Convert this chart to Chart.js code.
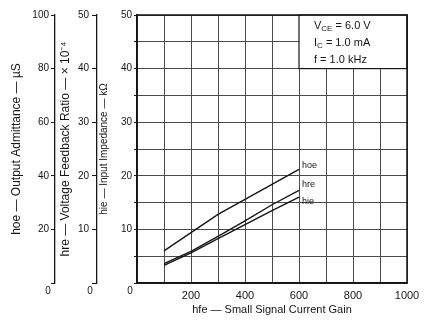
<!DOCTYPE html>
<html>
<head>
<meta charset="utf-8">
<script src="https://cdn.jsdelivr.net/npm/chart.js@4.4.1/dist/chart.umd.min.js"></script>
<style>
  html, body { margin:0; padding:0; background:#fff; }
  #wrap { width:433px; height:325px; position:relative; }
</style>
</head>
<body>
<div id="wrap"><canvas id="hParamChart"></canvas></div>
<script>
/* ═══════════════════════════════════════
   h-parameters vs small signal current gain
═══════════════════════════════════════ */

/* ── values ── */
const GAIN       = [100, 200, 300, 400, 500, 600];          // hfe
const HOE_US     = [12.0, 18.8, 25.6, 31.2, 36.8, 42.4];    // output admittance, µS
const HRE_E4     = [3.6, 5.9, 8.7, 11.6, 14.6, 17.3];       // voltage feedback ratio, ×10⁻⁴
const HIE_KOHM   = [3.3, 5.6, 8.3, 10.9, 13.5, 16.0];       // input impedance, kΩ
const CURVE_TAGS = ['hoe', 'hre', 'hie'];
const X_LABELS   = [200, 400, 600, 800, 1000];
const CONDITIONS = [['V','CE',' = 6.0 V'], ['I','C',' = 1.0 mA'], ['f','',' = 1.0 kHz']];

const INK  = '#151515';
const GRID = '#4a4a4a';
const FAMILY = "'Liberation Sans', Arial, sans-serif";

const pts = arr => GAIN.map((g,i) => ({ x:g, y:arr[i] }));

/* ── datasheet extras: condition box, frame, curve tags, zeros ── */
const sheetDecor = {
  id:'sheetDecor',
  afterDraw(chart) {
    const { ctx, chartArea:a, scales } = chart;
    const bx = scales.x.getPixelForValue(600);
    const by = scales.yie.getPixelForValue(40);
    ctx.save();

    // test-condition box
    ctx.fillStyle = '#fff';
    ctx.fillRect(bx, a.top, a.right - bx, by - a.top);
    ctx.strokeStyle = INK; ctx.lineWidth = 1.2;
    ctx.strokeRect(bx, a.top, a.right - bx, by - a.top);
    ctx.fillStyle = INK; ctx.textBaseline = 'middle'; ctx.textAlign = 'left';
    CONDITIONS.forEach(([main, sub, rest], i) => {
      let tx = bx + 15;
      const ty = a.top + 11 + i * 17;
      ctx.font = `11px ${FAMILY}`;
      ctx.fillText(main, tx, ty); tx += ctx.measureText(main).width;
      ctx.font = `8px ${FAMILY}`;
      ctx.fillText(sub, tx, ty + 3); tx += ctx.measureText(sub).width;
      ctx.font = `11px ${FAMILY}`;
      ctx.fillText(rest, tx, ty);
    });

    // plot frame
    ctx.lineWidth = 1.5;
    ctx.strokeRect(a.left, a.top, a.right - a.left, a.bottom - a.top);

    // curve tags at the line ends
    ctx.font = `9px ${FAMILY}`;
    chart.data.datasets.forEach((ds, i) => {
      const meta = chart.getDatasetMeta(i);
      const end = meta.data[meta.data.length - 1];
      ctx.fillText(ds.label, end.x + 3, end.y + ds.tagDy);
    });

    // the zeros sit below each left axis
    ctx.font = `10px ${FAMILY}`; ctx.textAlign = 'center';
    ['yoe','yre','yie'].forEach(id => {
      const s = scales[id];
      ctx.fillText('0', s.right - 7, s.bottom + 8);
    });
    ctx.restore();
  }
};

function leftAxis(o) {
  return {
    type:'linear', position:'left', min:0, max:o.max, weight:o.weight,
    afterFit: s => { s.width = o.width; },
    border:{ display:true, color:INK, width:o.borderWidth || 1.3 },
    grid:{ drawOnChartArea:!!o.onArea, color:GRID, tickColor:INK, lineWidth:1, tickLength:o.tickLength },
    ticks:{
      stepSize:o.step, padding:o.pad, color:INK, font:{ family:FAMILY, size:10 },
      callback: v => (v === 0 || v % o.labelEvery) ? '' : v
    },
    title:{ display:true, text:o.title, color:INK, font:{ family:FAMILY, size:o.titleSize }, padding:{ top:o.titlePad, bottom:0 } }
  };
}

function buildHParamChart() {
  const ctx = document.getElementById('hParamChart').getContext('2d');
  new Chart(ctx, {
    type:'line',
    data:{
      datasets:[
        { label:CURVE_TAGS[0], data:pts(HOE_US),   yAxisID:'yoe', tagDy:-4 },
        { label:CURVE_TAGS[1], data:pts(HRE_E4),   yAxisID:'yre', tagDy:-6 },
        { label:CURVE_TAGS[2], data:pts(HIE_KOHM), yAxisID:'yie', tagDy:4 }
      ]
    },
    options:{
      responsive:true, maintainAspectRatio:false, animation:false,
      layout:{ padding:{ top:15, right:26, left:0, bottom:0 } },
      elements:{ line:{ borderColor:INK, borderWidth:1.4, tension:0 }, point:{ radius:0 } },
      plugins:{ legend:{ display:false }, tooltip:{ enabled:false } },
      scales:{
        x:{
          type:'linear', min:0, max:1000,
          afterFit: s => { s.height = 42; },
          border:{ display:true, color:INK, width:1.5 },
          grid:{ color:GRID, drawTicks:false },
          ticks:{ stepSize:100, autoSkip:false, maxRotation:0, padding:6, color:INK,
                  font:{ family:FAMILY, size:11 }, callback: v => X_LABELS.includes(v) ? v : '' },
          title:{ display:true, text:'hfe — Small Signal Current Gain', color:INK,
                  font:{ family:FAMILY, size:11 }, padding:{ top:0, bottom:8 } }
        },
        yie: leftAxis({ max:50, step:5, labelEvery:10, weight:0, width:40, onArea:true, tickLength:3, pad:2,
                        borderWidth:1.5, title:'hie — Input Impedance — kΩ', titleSize:10, titlePad:1 }),
        yre: leftAxis({ max:50, step:10, labelEvery:10, weight:1, width:42, tickLength:5, pad:3,
                        title:'hre — Voltage Feedback Ratio — × 10⁻⁴', titleSize:12, titlePad:3 }),
        yoe: leftAxis({ max:100, step:20, labelEvery:20, weight:2, width:55, tickLength:4, pad:2,
                        title:'hoe — Output Admittance — µS', titleSize:12, titlePad:9 })
      }
    },
    plugins:[sheetDecor]
  });
}

window.addEventListener('DOMContentLoaded', buildHParamChart);
</script>
</body>
</html>
